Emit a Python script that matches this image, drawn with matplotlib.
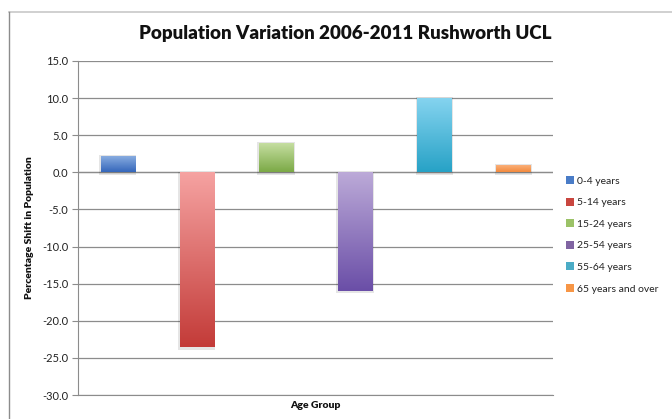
import numpy as np
import matplotlib.pyplot as plt
from matplotlib.patches import Patch, Rectangle
from matplotlib.lines import Line2D
from matplotlib.colors import LinearSegmentedColormap

plt.rcParams['font.family'] = ['Lato', 'DejaVu Sans']

age_groups = ['0-4 years', '5-14 years', '15-24 years', '25-54 years', '55-64 years', '65 years and over']
shift = [2.2, -23.6, 4.0, -16.0, 10.0, 1.0]
# light (top) and dark (bottom) shade for each bar
top_colors = ['#8db0e2', '#f6a3a2', '#c8e0a4', '#bcaad8', '#86d4f0', '#fbb583']
bottom_colors = ['#3567bb', '#c33b38', '#7ba946', '#6a4ea7', '#27a2c6', '#f38a3c']
legend_colors = ['#4a7cc7', '#c9463f', '#9bc267', '#8064a2', '#4bacc6', '#f79646']

fig = plt.figure(figsize=(6.72, 4.19), dpi=100)
ax = fig.add_axes([78 / 672, 1 - 395 / 419, 475 / 672, 334 / 419])

# chart frame: only the top and left edges fall inside the image
fig.lines.append(Line2D([9 / 672, 1], [1 - 12 / 419, 1 - 12 / 419], transform=fig.transFigure,
                        color='#c8c8c8', linewidth=1.2))
fig.lines.append(Line2D([9 / 672, 9 / 672], [0, 1 - 12 / 419], transform=fig.transFigure,
                        color='#8c8c8c', linewidth=1.0))

x = np.arange(len(shift))
width = 0.43
grad = np.linspace(0, 1, 256).reshape(-1, 1)

for i, v in enumerate(shift):
    lo, hi = min(0, v), max(0, v)
    # soft shadow behind each bar
    ax.add_patch(Rectangle((x[i] - width / 2 - 0.02, lo - 0.3), width + 0.04, hi - lo + 0.4,
                           facecolor='#000000', alpha=0.10, edgecolor='none', zorder=2))
    bar = ax.bar(x[i], v, width=width, color='none', edgecolor='none', zorder=3)[0]
    cmap = LinearSegmentedColormap.from_list('g%d' % i, [top_colors[i], bottom_colors[i]])
    im = ax.imshow(grad, cmap=cmap, extent=[x[i] - width / 2, x[i] + width / 2, lo, hi],
                   origin='upper', aspect='auto', zorder=3)
    im.set_clip_path(bar)

ax.set_xlim(-0.5, len(shift) - 0.5)
ax.set_ylim(-30, 15)
ax.set_yticks(np.arange(-30, 15.1, 5))
ax.set_yticklabels(['%.1f' % t for t in np.arange(-30, 15.1, 5)], fontsize=8, color='#222222')
ax.set_xticks([])
ax.grid(axis='y', color='#8c8c8c', linewidth=0.9, zorder=1)
ax.axhline(0, color='#8c8c8c', linewidth=0.9, zorder=1)
ax.tick_params(axis='y', length=4, color='#8c8c8c', pad=3)
for side in ['top', 'right']:
    ax.spines[side].set_visible(False)
ax.spines['left'].set_color('#8c8c8c')
ax.spines['bottom'].set_color('#8c8c8c')
ax.set_axisbelow(True)

ax.set_ylabel('Percentage Shift in Population', fontsize=7.5, fontweight='heavy', color='#111111', labelpad=6)
ax.set_xlabel('Age Group', fontsize=7.5, fontweight='heavy', color='#111111', labelpad=4)
fig.text(345 / 672, 1 - 34 / 419, 'Population Variation 2006-2011 Rushworth UCL', ha='center', va='center',
         fontsize=13.5, fontweight='heavy', color='#111111')

handles = [Patch(facecolor=c, edgecolor='none') for c in legend_colors]
fig.legend(handles, age_groups, loc='upper left', bbox_to_anchor=(566 / 672, 1 - 176 / 419),
           frameon=False, fontsize=7.5, handlelength=0.8, handleheight=0.8, handletextpad=0.3,
           labelspacing=1.15, borderaxespad=0, borderpad=0)
for t in fig.legends[0].get_texts():
    t.set_color('#222222')

fig.savefig('out.png', dpi=100)
